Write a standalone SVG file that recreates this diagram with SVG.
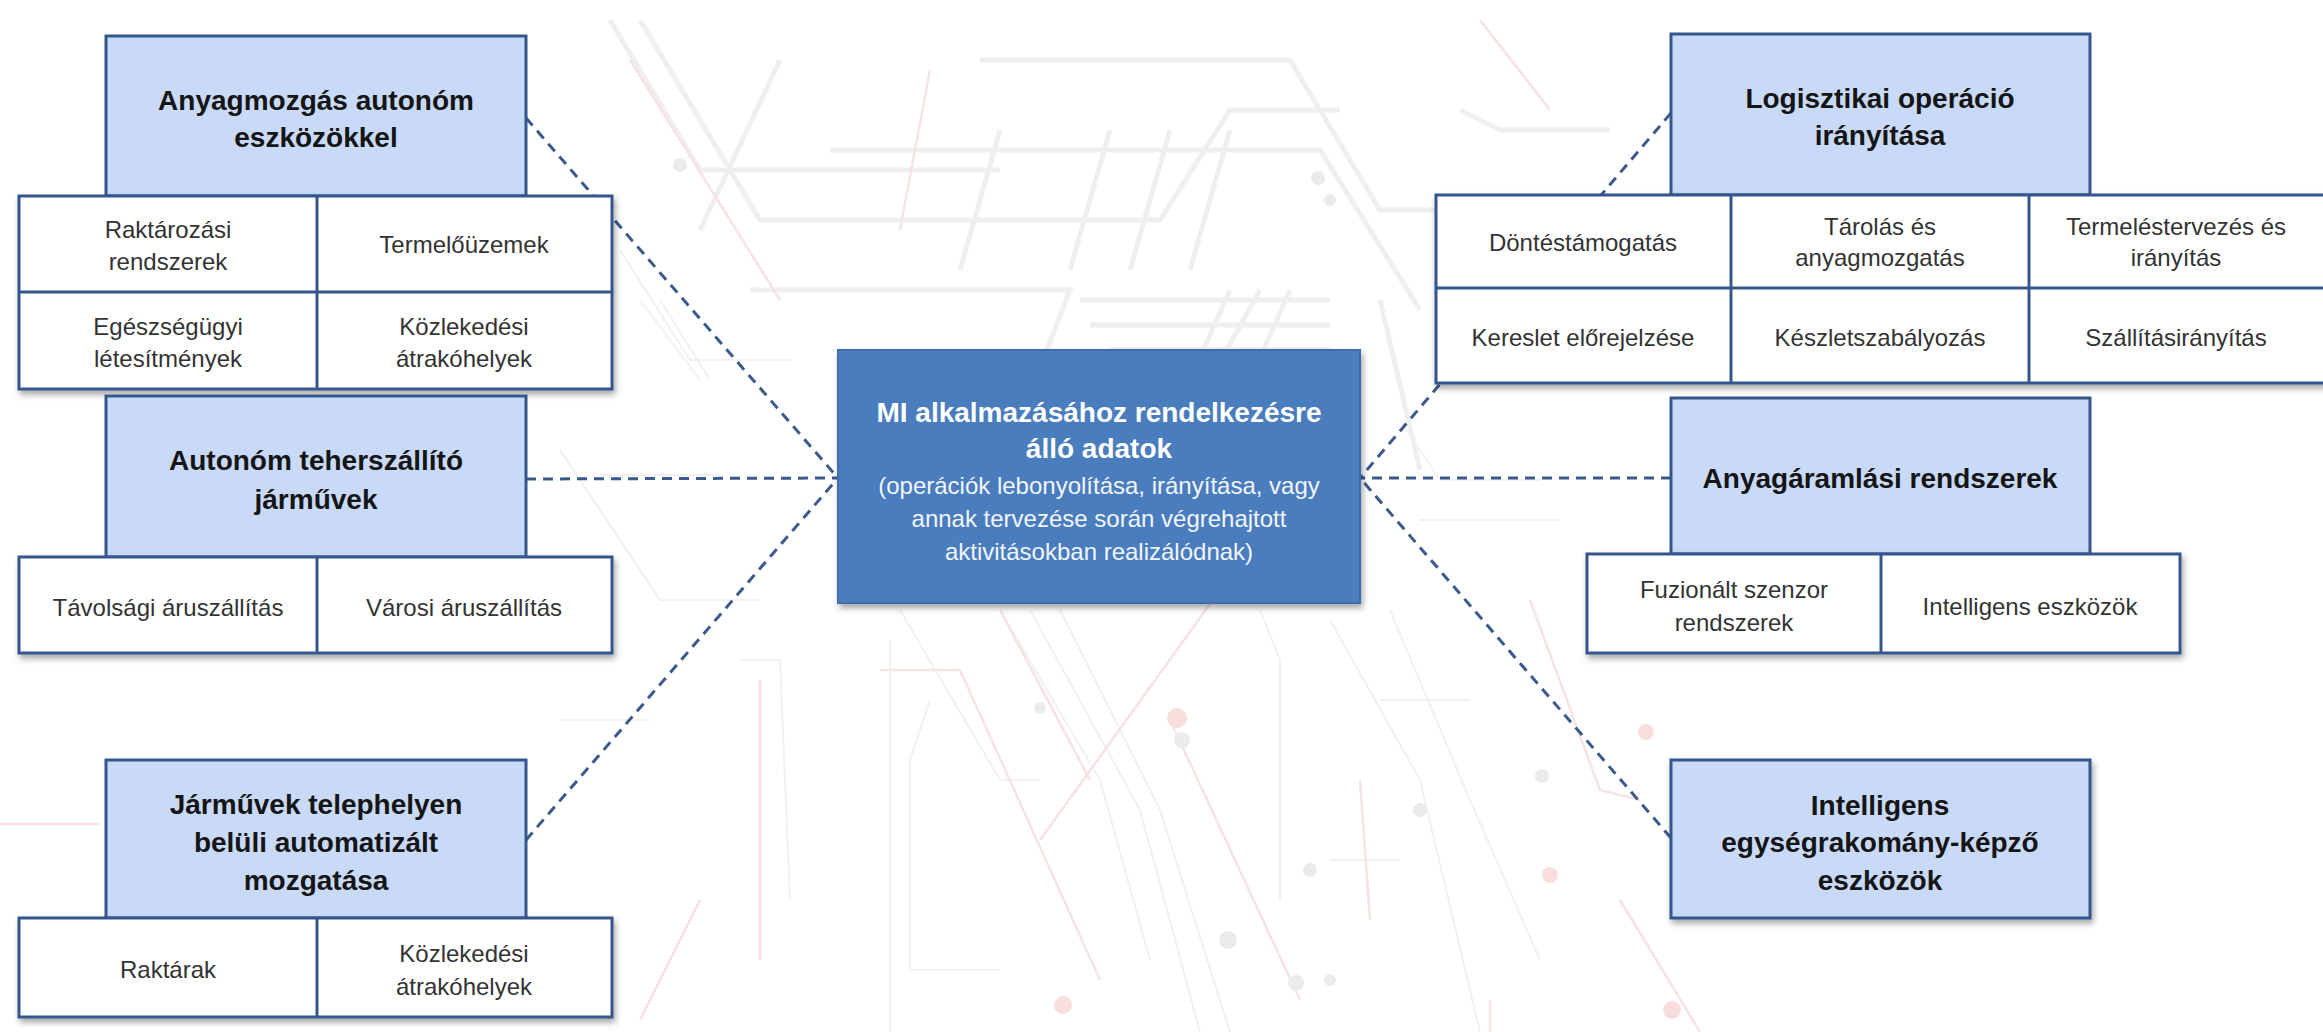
<svg xmlns="http://www.w3.org/2000/svg" width="2323" height="1032" viewBox="0 0 2323 1032">
<defs>
<filter id="sh" x="-5%" y="-5%" width="110%" height="120%">
<feDropShadow dx="2" dy="4" stdDeviation="3" flood-color="#000" flood-opacity="0.35"/>
</filter>
<style>
.bg{fill:none;stroke:#efefef;stroke-width:5}
.bgt{fill:none;stroke:#f1f1f1;stroke-width:2}
.bgr{fill:none;stroke:#f9e2e2;stroke-width:2.5}
.dot{fill:#ebebeb}
.dotr{fill:#f9dede}
.head{fill:#c9daf8;stroke:#35568c;stroke-width:3}
.cell{fill:#ffffff;stroke:#35568c;stroke-width:3}
.div{stroke:#35568c;stroke-width:3}
.center{fill:#4a7dbd;stroke:#3f6ea8;stroke-width:2}
.t{font-family:"Liberation Sans",Arial,sans-serif;font-size:28px;font-weight:bold;fill:#151515;text-anchor:middle}
.s{font-family:"Liberation Sans",Arial,sans-serif;font-size:24px;fill:#333333;text-anchor:middle}
.ct{font-family:"Liberation Sans",Arial,sans-serif;font-size:28px;font-weight:bold;fill:#ffffff;text-anchor:middle}
.cs{font-family:"Liberation Sans",Arial,sans-serif;font-size:24px;fill:#f2f5fb;text-anchor:middle}
.con{fill:none;stroke:#3a5a8c;stroke-width:3;stroke-dasharray:10 7}
</style>
</defs>
<rect width="2323" height="1032" fill="#ffffff"/>
<g id="background">
<path class="bg" d="M610 20 L700 170 L1000 170"/>
<path class="bg" d="M640 20 L760 220 L1160 220 L1230 110 L1340 110"/>
<path class="bg" d="M980 60 L1290 60 L1380 210 L1640 210"/>
<path class="bg" d="M830 150 L1320 150 L1420 310"/>
<path class="bg" d="M780 60 L700 230"/>
<path class="bg" d="M1000 130 L960 270"/>
<path class="bg" d="M1110 130 L1070 270"/>
<path class="bg" d="M1170 130 L1130 270"/>
<path class="bg" d="M1230 130 L1190 270"/>
<path class="bg" d="M750 290 L1070 290 L1020 420"/>
<path class="bg" d="M1080 300 L1330 300"/>
<path class="bg" d="M1090 325 L1330 325"/>
<path class="bg" d="M1110 350 L1330 350"/>
<path class="bg" d="M1150 470 L1230 290"/>
<path class="bg" d="M1160 470 L1260 290"/>
<path class="bg" d="M1210 470 L1290 290"/>
<path class="bg" d="M1380 300 L1420 470"/>
<path class="bg" d="M1610 130 L1500 130 L1460 110"/>
<path class="bgt" d="M620 250 L690 360 L790 360"/>
<path class="bgt" d="M640 300 L700 380"/>
<path class="bgt" d="M660 300 L710 380"/>
<path class="bgt" d="M560 450 L660 600 L760 600"/>
<path class="bgt" d="M600 475 L720 475"/>
<path class="bgt" d="M1400 420 L1440 480 L1540 480"/>
<path class="bgt" d="M1420 520 L1560 520"/>
<path class="bgt" d="M900 610 L1000 780 L1040 780"/>
<path class="bgt" d="M1000 610 L1100 780 L1150 960"/>
<path class="bgt" d="M1030 610 L1140 810 L1200 1032"/>
<path class="bgt" d="M1060 610 L1160 810 L1230 1032"/>
<path class="bgt" d="M1260 610 L1280 660 L1280 900"/>
<path class="bgt" d="M1330 620 L1420 780 L1480 1032"/>
<path class="bgt" d="M1390 610 L1470 800 L1540 960"/>
<path class="bgt" d="M890 640 L890 1032"/>
<path class="bgt" d="M930 700 L910 760 L910 970 L1000 970"/>
<path class="bgt" d="M1380 700 L1470 700"/>
<path class="bgt" d="M1330 860 L1400 860"/>
<path class="bgt" d="M740 660 L780 660 L790 900"/>
<path class="bgt" d="M560 720 L650 720"/>
<path class="bgr" d="M1000 610 L1090 780"/>
<path class="bgr" d="M1040 840 L1220 590"/>
<path class="bgr" d="M1170 720 L1300 1000"/>
<path class="bgr" d="M880 670 L960 670 L1100 980"/>
<path class="bgr" d="M760 680 L760 960"/>
<path class="bgr" d="M700 900 L640 1020"/>
<path class="bgr" d="M1530 600 L1600 790 L1640 800"/>
<path class="bgr" d="M1620 900 L1700 1032"/>
<path class="bgr" d="M1360 780 L1370 920"/>
<path class="bgr" d="M1490 1000 L1490 1032"/>
<path class="bgr" d="M630 60 L780 300"/>
<path class="bgr" d="M930 70 L900 230"/>
<path class="bgr" d="M1480 20 L1550 110"/>
<path class="bgr" d="M0 824 L100 824"/>
<circle class="dot" cx="680" cy="165" r="7"/>
<circle class="dot" cx="1318" cy="178" r="7"/>
<circle class="dot" cx="1330" cy="200" r="6"/>
<circle class="dot" cx="1182" cy="740" r="8"/>
<circle class="dot" cx="1228" cy="940" r="9"/>
<circle class="dot" cx="1296" cy="983" r="8"/>
<circle class="dot" cx="1310" cy="870" r="7"/>
<circle class="dot" cx="1330" cy="980" r="6"/>
<circle class="dot" cx="1040" cy="708" r="6"/>
<circle class="dot" cx="1420" cy="810" r="7"/>
<circle class="dot" cx="1542" cy="776" r="7"/>
<circle class="dotr" cx="1177" cy="718" r="10"/>
<circle class="dotr" cx="1063" cy="1005" r="9"/>
<circle class="dotr" cx="1672" cy="1010" r="9"/>
<circle class="dotr" cx="1646" cy="732" r="8"/>
<circle class="dotr" cx="1550" cy="875" r="8"/>
</g>
<g id="connectors">
<line class="con" x1="526" y1="118" x2="838" y2="478"/>
<line class="con" x1="526" y1="479" x2="838" y2="478"/>
<line class="con" x1="526" y1="840" x2="838" y2="478"/>
<line class="con" x1="1671" y1="113" x2="1360" y2="478"/>
<line class="con" x1="1671" y1="478" x2="1360" y2="478"/>
<line class="con" x1="1671" y1="838" x2="1360" y2="478"/>
</g>
<g id="node-anyagmozgas">
<rect class="head" x="106" y="36" width="420" height="160"/>
<text class="t" x="316" y="110">Anyagmozgás autonóm</text>
<text class="t" x="316" y="147">eszközökkel</text>
<g filter="url(#sh)">
<rect class="cell" x="19" y="196" width="593" height="193"/>
</g>
<line class="div" x1="19" y1="292" x2="612" y2="292"/>
<line class="div" x1="317" y1="196" x2="317" y2="389"/>
<text class="s" x="168" y="238">Raktározási</text>
<text class="s" x="168" y="270">rendszerek</text>
<text class="s" x="464" y="253">Termelőüzemek</text>
<text class="s" x="168" y="335">Egészségügyi</text>
<text class="s" x="168" y="367">létesítmények</text>
<text class="s" x="464" y="335">Közlekedési</text>
<text class="s" x="464" y="367">átrakóhelyek</text>
</g>
<g id="node-teherszallito">
<rect class="head" x="106" y="396" width="420" height="161"/>
<text class="t" x="316" y="470">Autonóm teherszállító</text>
<text class="t" x="316" y="509">járművek</text>
<g filter="url(#sh)">
<rect class="cell" x="19" y="557" width="593" height="96"/>
</g>
<line class="div" x1="317" y1="557" x2="317" y2="653"/>
<text class="s" x="168" y="616">Távolsági áruszállítás</text>
<text class="s" x="464" y="616">Városi áruszállítás</text>
</g>
<g id="node-telephely">
<rect class="head" x="106" y="760" width="420" height="158"/>
<text class="t" x="316" y="814">Járművek telephelyen</text>
<text class="t" x="316" y="852">belüli automatizált</text>
<text class="t" x="316" y="890">mozgatása</text>
<g filter="url(#sh)">
<rect class="cell" x="19" y="918" width="593" height="99"/>
</g>
<line class="div" x1="317" y1="918" x2="317" y2="1017"/>
<text class="s" x="168" y="978">Raktárak</text>
<text class="s" x="464" y="962">Közlekedési</text>
<text class="s" x="464" y="995">átrakóhelyek</text>
</g>
<g id="node-center">
<rect class="center" x="838" y="350" width="522" height="253" filter="url(#sh)"/>
<text class="ct" x="1099" y="422">MI alkalmazásához rendelkezésre</text>
<text class="ct" x="1099" y="458">álló adatok</text>
<text class="cs" x="1099" y="494">(operációk lebonyolítása, irányítása, vagy</text>
<text class="cs" x="1099" y="527">annak tervezése során végrehajtott</text>
<text class="cs" x="1099" y="560">aktivitásokban realizálódnak)</text>
</g>
<g id="node-logisztika">
<rect class="head" x="1671" y="34" width="419" height="161"/>
<text class="t" x="1880" y="108">Logisztikai operáció</text>
<text class="t" x="1880" y="145">irányítása</text>
<g filter="url(#sh)">
<rect class="cell" x="1436" y="195" width="890" height="188"/>
</g>
<line class="div" x1="1436" y1="288" x2="2326" y2="288"/>
<line class="div" x1="1731" y1="195" x2="1731" y2="383"/>
<line class="div" x1="2029" y1="195" x2="2029" y2="383"/>
<text class="s" x="1583" y="251">Döntéstámogatás</text>
<text class="s" x="1880" y="235">Tárolás és</text>
<text class="s" x="1880" y="266">anyagmozgatás</text>
<text class="s" x="2176" y="235">Termeléstervezés és</text>
<text class="s" x="2176" y="266">irányítás</text>
<text class="s" x="1583" y="346">Kereslet előrejelzése</text>
<text class="s" x="1880" y="346">Készletszabályozás</text>
<text class="s" x="2176" y="346">Szállításirányítás</text>
</g>
<g id="node-anyagaramlas">
<rect class="head" x="1671" y="398" width="419" height="156"/>
<text class="t" x="1880" y="488">Anyagáramlási rendszerek</text>
<g filter="url(#sh)">
<rect class="cell" x="1587" y="554" width="593" height="99"/>
</g>
<line class="div" x1="1881" y1="554" x2="1881" y2="653"/>
<text class="s" x="1734" y="598">Fuzionált szenzor</text>
<text class="s" x="1734" y="631">rendszerek</text>
<text class="s" x="2030" y="615">Intelligens eszközök</text>
</g>
<g id="node-egysegrakomany">
<rect class="head" x="1671" y="760" width="419" height="158" filter="url(#sh)"/>
<text class="t" x="1880" y="815">Intelligens</text>
<text class="t" x="1880" y="852">egységrakomány-képző</text>
<text class="t" x="1880" y="890">eszközök</text>
</g>
</svg>
